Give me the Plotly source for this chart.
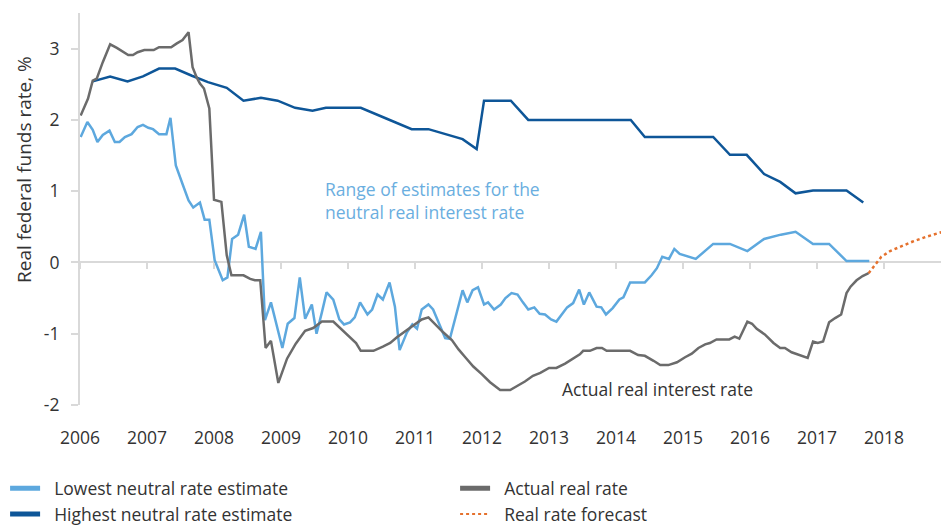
import plotly.graph_objects as go

# ---- data (decimal years, % values) ----
low_x = [2006.01, 2006.11, 2006.19, 2006.26, 2006.34, 2006.44, 2006.52, 2006.59, 2006.67, 2006.77,
         2006.86, 2006.94, 2007.02, 2007.09, 2007.18, 2007.29, 2007.35, 2007.43, 2007.53, 2007.62,
         2007.69, 2007.79, 2007.86, 2007.93, 2008.01, 2008.13, 2008.20, 2008.27, 2008.36, 2008.45,
         2008.52, 2008.62, 2008.70, 2008.76, 2008.85, 2008.94, 2009.02, 2009.10, 2009.20, 2009.28,
         2009.36, 2009.46, 2009.53, 2009.61, 2009.68, 2009.78, 2009.87, 2009.94, 2010.03, 2010.10,
         2010.18, 2010.29, 2010.36, 2010.44, 2010.52, 2010.62, 2010.70, 2010.77, 2010.88, 2010.96,
         2011.03, 2011.10, 2011.20, 2011.27, 2011.35, 2011.45, 2011.52, 2011.62, 2011.71, 2011.78,
         2011.86, 2011.94, 2012.03, 2012.09, 2012.18, 2012.28, 2012.35, 2012.44, 2012.53, 2012.61,
         2012.69, 2012.78, 2012.86, 2012.94, 2013.03, 2013.11, 2013.19, 2013.27, 2013.36, 2013.45,
         2013.52, 2013.60, 2013.71, 2013.78, 2013.85, 2013.95, 2014.05, 2014.11, 2014.21, 2014.43,
         2014.53, 2014.61, 2014.69, 2014.79, 2014.87, 2014.95, 2015.19, 2015.45, 2015.70, 2015.96,
         2016.21, 2016.46, 2016.68, 2016.94, 2017.18, 2017.44, 2017.78]
low_y = [1.76, 1.97, 1.86, 1.69, 1.79, 1.85, 1.69, 1.69, 1.76, 1.80,
         1.90, 1.93, 1.89, 1.87, 1.80, 1.80, 2.03, 1.36, 1.10, 0.87,
         0.77, 0.84, 0.60, 0.60, 0.03, -0.25, -0.21, 0.33, 0.39, 0.67,
         0.22, 0.19, 0.43, -0.81, -0.56, -0.91, -1.20, -0.86, -0.78, -0.21,
         -0.79, -0.59, -1.00, -0.70, -0.42, -0.52, -0.80, -0.87, -0.84, -0.77,
         -0.56, -0.73, -0.66, -0.45, -0.52, -0.28, -0.62, -1.23, -0.98, -0.87,
         -0.93, -0.66, -0.59, -0.66, -0.84, -1.06, -1.07, -0.72, -0.39, -0.56,
         -0.39, -0.35, -0.59, -0.56, -0.66, -0.59, -0.50, -0.43, -0.45, -0.56,
         -0.66, -0.63, -0.72, -0.73, -0.80, -0.83, -0.73, -0.63, -0.57, -0.38,
         -0.59, -0.42, -0.62, -0.63, -0.73, -0.64, -0.52, -0.49, -0.28, -0.28,
         -0.18, -0.08, 0.08, 0.05, 0.19, 0.12, 0.05, 0.26, 0.26, 0.16,
         0.33, 0.39, 0.43, 0.26, 0.26, 0.02, 0.02]

high_x = [2006.19, 2006.45, 2006.71, 2006.94, 2007.18, 2007.42, 2007.67, 2007.91, 2008.19, 2008.44,
          2008.70, 2008.95, 2009.21, 2009.47, 2009.67, 2010.19, 2010.57, 2010.95, 2011.20, 2011.47,
          2011.71, 2011.92, 2012.03, 2012.43, 2012.69, 2014.22, 2014.43, 2015.45, 2015.70, 2015.95,
          2016.21, 2016.45, 2016.68, 2016.94, 2017.44, 2017.69]
high_y = [2.54, 2.61, 2.54, 2.61, 2.72, 2.72, 2.62, 2.53, 2.45, 2.27,
          2.31, 2.27, 2.17, 2.13, 2.17, 2.17, 2.02, 1.87, 1.87, 1.80,
          1.73, 1.59, 2.27, 2.27, 2.00, 2.00, 1.76, 1.76, 1.51, 1.51,
          1.24, 1.13, 0.97, 1.01, 1.01, 0.84]

actual_x = [2006.01, 2006.12, 2006.19, 2006.25, 2006.34, 2006.45, 2006.55, 2006.64, 2006.72, 2006.79,
            2006.86, 2006.96, 2007.10, 2007.18, 2007.36, 2007.44, 2007.53, 2007.62, 2007.68, 2007.74,
            2007.79, 2007.85, 2007.93, 2008.00, 2008.11, 2008.19, 2008.26, 2008.44, 2008.54, 2008.61,
            2008.69, 2008.77, 2008.85, 2008.96, 2009.09, 2009.22, 2009.36, 2009.48, 2009.61, 2009.78,
            2009.98, 2010.12, 2010.19, 2010.38, 2010.52, 2010.63, 2010.73, 2010.88, 2011.00, 2011.10,
            2011.20, 2011.30, 2011.42, 2011.55, 2011.65, 2011.75, 2011.87, 2012.00, 2012.12, 2012.27,
            2012.42, 2012.53, 2012.64, 2012.76, 2012.87, 2013.00, 2013.11, 2013.24, 2013.36, 2013.46,
            2013.51, 2013.61, 2013.71, 2013.79, 2013.86, 2014.21, 2014.33, 2014.43, 2014.56, 2014.66,
            2014.78, 2014.91, 2015.03, 2015.13, 2015.23, 2015.33, 2015.40, 2015.50, 2015.69, 2015.77,
            2015.84, 2015.96, 2016.03, 2016.10, 2016.22, 2016.35, 2016.45, 2016.52, 2016.62, 2016.75,
            2016.86, 2016.94, 2017.01, 2017.09, 2017.18, 2017.27, 2017.36, 2017.44, 2017.50, 2017.59,
            2017.68, 2017.77]
actual_y = [2.06, 2.30, 2.55, 2.58, 2.81, 3.06, 3.01, 2.96, 2.91, 2.91,
            2.95, 2.98, 2.98, 3.02, 3.02, 3.07, 3.12, 3.23, 2.74, 2.60,
            2.51, 2.44, 2.16, 0.88, 0.85, 0.10, -0.18, -0.18, -0.23, -0.25,
            -0.25, -1.20, -1.10, -1.69, -1.35, -1.14, -0.96, -0.92, -0.83, -0.83,
            -1.00, -1.13, -1.24, -1.24, -1.18, -1.13, -1.05, -0.95, -0.86, -0.80,
            -0.77, -0.87, -0.98, -1.09, -1.22, -1.33, -1.46, -1.57, -1.68, -1.79,
            -1.79, -1.73, -1.67, -1.59, -1.55, -1.48, -1.48, -1.42, -1.35, -1.29,
            -1.24, -1.24, -1.20, -1.20, -1.24, -1.24, -1.30, -1.31, -1.38, -1.44,
            -1.44, -1.40, -1.33, -1.28, -1.20, -1.15, -1.13, -1.08, -1.08, -1.04,
            -1.07, -0.83, -0.86, -0.93, -1.01, -1.13, -1.20, -1.20, -1.26, -1.30,
            -1.34, -1.11, -1.13, -1.11, -0.84, -0.78, -0.73, -0.43, -0.34, -0.25,
            -0.19, -0.15]

fc_x = [2017.77, 2017.87, 2017.96, 2018.09, 2018.24, 2018.42, 2018.63, 2018.85, 2018.95]
fc_y = [-0.15, -0.02, 0.08, 0.16, 0.22, 0.29, 0.36, 0.42, 0.45]

years = list(range(2006, 2019))
y_ticks = [-2, -1, 0, 1, 2, 3]
y_tick_text = ["-2", "-1", "0", "1", "2", "3"]

LIGHT = "#5DA8DE"
DARK = "#0E5698"
GRAY = "#6B6B6B"
ORANGE = "#E5712D"
AXIS = "#D9D9D9"
TXT = "#333333"
FONT = "Open Sans"
FS = 17.5
PAD = "\u00a0\u00a0"

fig = go.Figure()

fig.add_trace(go.Scatter(x=high_x, y=high_y, mode="lines", line=dict(color=DARK, width=2.5),
                         showlegend=False, hoverinfo="skip"))
fig.add_trace(go.Scatter(x=low_x, y=low_y, mode="lines", line=dict(color=LIGHT, width=2.5),
                         showlegend=False, hoverinfo="skip"))
fig.add_trace(go.Scatter(x=actual_x, y=actual_y, mode="lines", line=dict(color=GRAY, width=2.5),
                         showlegend=False, hoverinfo="skip"))
fig.add_trace(go.Scatter(x=fc_x, y=fc_y, mode="lines", line=dict(color=ORANGE, width=2.5, dash="dot"),
                         showlegend=False, hoverinfo="skip"))

# legend entries
fig.add_trace(go.Scatter(x=[None], y=[None], mode="lines", name=PAD + "Lowest neutral rate estimate",
                         line=dict(color=LIGHT, width=5), legendrank=1))
fig.add_trace(go.Scatter(x=[None], y=[None], mode="lines", name=PAD + "Actual real rate",
                         line=dict(color=GRAY, width=5), legendrank=2))
fig.add_trace(go.Scatter(x=[None], y=[None], mode="lines", name=PAD + "Highest neutral rate estimate",
                         line=dict(color=DARK, width=5), legendrank=3))
fig.add_trace(go.Scatter(x=[None], y=[None], mode="lines", name=PAD + "Real rate forecast",
                         line=dict(color=ORANGE, width=2, dash="dot"), legendrank=4))

# helper trace for the x-axis ticks on the zero line
fig.add_trace(go.Scatter(x=[2006], y=[0], xaxis="x2", mode="lines", showlegend=False,
                         hoverinfo="skip", line=dict(width=0), opacity=0))

fig.update_layout(
    width=941, height=525,
    margin=dict(l=80, r=0, t=13, b=120, autoexpand=False),
    paper_bgcolor="white", plot_bgcolor="white",
    font=dict(family=FONT, size=FS, color=TXT),
    xaxis=dict(range=[2006, 2018.85], tickvals=years, ticktext=[str(y) for y in years],
               showgrid=False, zeroline=False, showline=False,
               ticks="outside", ticklen=17, tickcolor="rgba(0,0,0,0)",
               tickfont=dict(size=FS, color=TXT)),
    xaxis2=dict(range=[2006, 2018.85], overlaying="x", anchor="free",
                position=2 / 5.5, tickvals=years, showticklabels=False,
                showgrid=False, zeroline=False, showline=False,
                ticks="outside", ticklen=6, tickwidth=2, tickcolor=AXIS),
    yaxis=dict(range=[-2, 3.5], tickvals=y_ticks, ticktext=y_tick_text,
               showgrid=False, zeroline=True, zerolinecolor=AXIS, zerolinewidth=2,
               showline=True, linecolor=AXIS, linewidth=2,
               ticks="outside", ticklen=7, tickwidth=2, tickcolor=AXIS,
               ticklabelstandoff=8, tickfont=dict(size=FS, color=TXT)),
    legend=dict(orientation="h", x=-0.087, xanchor="left", y=-0.1665, yanchor="top",
                entrywidth=405, entrywidthmode="pixels",
                font=dict(size=FS, color=TXT), bgcolor="rgba(0,0,0,0)"),
    annotations=[
        dict(x=0.0, xref="paper", xshift=-56, xanchor="center", y=(405 - 170) / 392, yref="paper",
             yanchor="middle", showarrow=False,
             text="Real federal funds rate, %", textangle=-90, font=dict(size=19, color=TXT)),
        dict(x=2009.62, y=0.87, xref="x", yref="y", xanchor="left", yanchor="middle", align="left",
             showarrow=False, text="Range of estimates for the<br>neutral real interest rate",
             font=dict(size=FS, color="#6AAEE0")),
        dict(x=2013.16, y=-1.78, xref="x", yref="y", xanchor="left", yanchor="middle",
             showarrow=False, text="Actual real interest rate", font=dict(size=FS, color=TXT)),
    ],
)

fig.write_html("out.html", config={"displayModeBar": False},
               post_script="document.body.style.margin='0';document.body.style.overflow='hidden';")
